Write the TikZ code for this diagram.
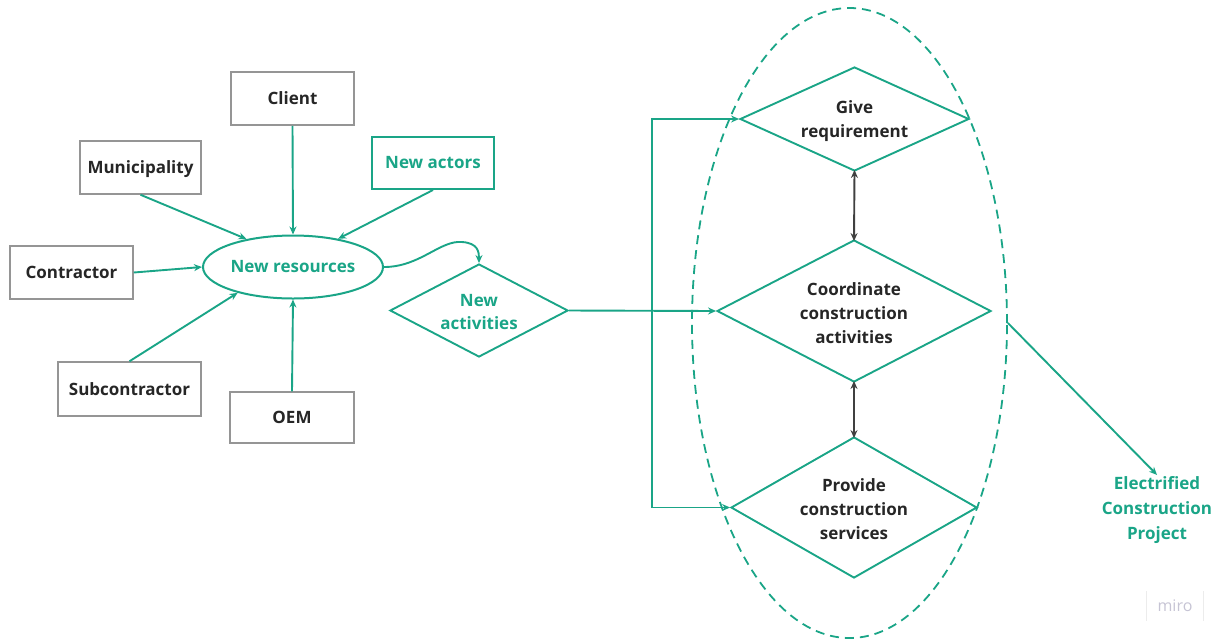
\documentclass[tikz,border=0pt]{standalone}
\usepackage{fontspec}
\setmainfont{Open Sans}
\usetikzlibrary{shapes.geometric,arrows.meta,calc}
\definecolor{teal}{HTML}{1AA587}
\definecolor{ink}{HTML}{262626}
\definecolor{boxgrey}{HTML}{959595}
\definecolor{darkline}{HTML}{404040}
\definecolor{wmark}{HTML}{C6C4D4}
\definecolor{wline}{HTML}{ECECEC}
\begin{document}
\begin{tikzpicture}[x=1pt,y=-1pt,
  txt/.style={font=\fontsize{17}{24}\selectfont\bfseries},
  actor/.style={draw=boxgrey,line width=1.5pt,fill=white,minimum height=53pt,
    text=ink,txt,text depth=0pt,yshift=0pt},
  newactor/.style={draw=teal,line width=2pt,minimum height=52pt,minimum width=122pt,
    text=teal,txt},
  dia/.style={draw=teal,line width=1.9pt,diamond,inner sep=0pt},
  dlabel/.style={text=ink,align=center,txt,yshift=-2pt},
  glabel/.style={text=teal,align=center,txt,yshift=-2pt},
  tip/.style={Stealth[length=8pt,width=7pt]},
  garrow/.style={draw=teal,line width=1.9pt,-{Stealth[length=8pt,width=7pt]}},
  darrow/.style={draw=darkline,line width=1.9pt,{Stealth[length=8pt,width=7pt]}-{Stealth[length=8pt,width=7pt]}}
]
\useasboundingbox (0,0) rectangle (1222,641);

% actors around the resource pool
\node[actor,minimum width=123pt] (client) at (292.5,98.5) {Client};
\node[actor,minimum width=121pt] (muni) at (140.5,167.5) {Municipality};
\node[newactor] (newact) at (433,163) {New actors};
\node[actor,minimum width=123pt] (contr) at (71.5,272.5) {Contractor};
\node[actor,minimum width=143pt,minimum height=54pt] (sub) at (129.5,389) {Subcontractor};
\node[actor,minimum width=124pt,minimum height=51pt] (oem) at (292,417.5) {OEM};

% resource pool
\node[ellipse,draw=teal,line width=2pt,inner sep=0pt,minimum width=180pt,minimum height=63pt,
  text=teal,txt] (nr) at (293,267) {New resources};

% new activities
\node[dia,minimum width=178pt,minimum height=93pt] (na) at (479,310.5) {};
\node[glabel,font=\fontsize{17}{23}\selectfont\bfseries] at (na) {New\\activities};

% activity cluster
\node[draw=teal,line width=1.8pt,dash pattern=on 9pt off 6pt,ellipse,
  minimum width=315pt,minimum height=630pt,inner sep=0pt] (cluster) at (849.5,323) {};

\node[dia,minimum width=229pt,minimum height=104pt] (give) at (854.5,119) {};
\node[dlabel] at (give) {Give\\requirement};
\node[dia,minimum width=274pt,minimum height=142pt] (coord) at (854,311) {};
\node[dlabel] at (coord) {Coordinate\\construction\\activities};
\node[dia,minimum width=246pt,minimum height=141pt] (prov) at (854,507.5) {};
\node[dlabel] at (prov) {Provide\\construction\\services};

% outcome
\node[glabel,font=\fontsize{17}{25}\selectfont\bfseries] (proj) at (1157,508)
  {Electrified\\Construction\\Project};

% watermark
\node[text=wmark,font=\fontsize{16}{18}\selectfont,minimum width=57pt,minimum height=30pt]
  (miro) at (1175,606) {miro};
\draw[wline,line width=1pt] (miro.north west) -- (miro.south west);
\draw[wline,line width=1pt] (miro.north east) -- (miro.south east);

% actors feed the resource pool
\draw[garrow] (client.south) -- (nr.north);
\draw[garrow] (muni.south) -- (nr.149);
\draw[garrow] (newact.south) -- (nr.32);
\draw[garrow] (contr.east) -- (nr.west);
\draw[garrow] (sub.north) -- (nr.205);
\draw[garrow] (oem.north) -- (nr.south);

% resources turn into activities
\draw[garrow] (nr.east) .. controls (420,267) and (440,240) .. (462,242)
  .. controls (478,243) and (479,252) .. (na.north);

% activities branch into the cluster
\coordinate (split) at (652,310.5);
\draw[garrow] (na.east) -- (coord.west);
\draw[garrow] (na.east) -- (split) |- (give.west);
\draw[garrow] (na.east) -- (split) |- (prov.west);

% coordination links
\draw[darrow] ([yshift=2pt]give.south) -- ([yshift=-2pt]coord.north);
\draw[darrow] ([yshift=2pt]coord.south) -- ([yshift=-2pt]prov.north);

% cluster delivers the project
\draw[garrow] (cluster.east) -- ([yshift=-2pt]proj.north);
\end{tikzpicture}
\end{document}
